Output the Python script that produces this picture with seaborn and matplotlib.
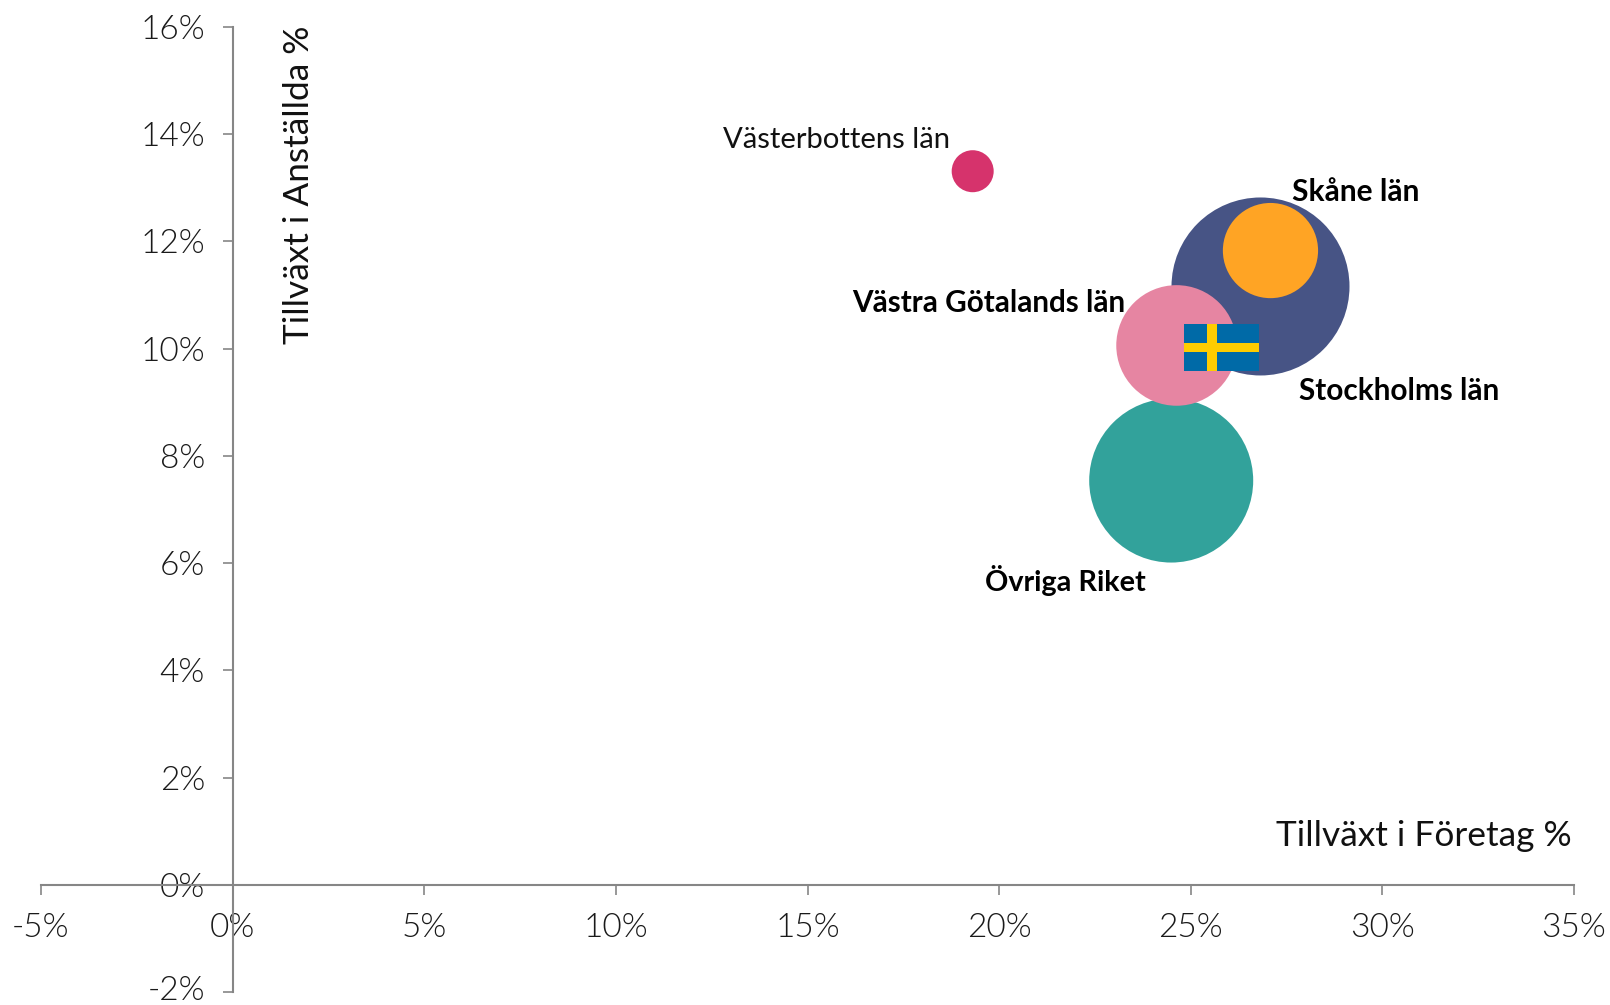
import pandas as pd
import seaborn as sns
import matplotlib.pyplot as plt
from matplotlib.patches import Rectangle
from matplotlib.transforms import ScaledTranslation

# drawing order: later regions sit on top
regions = ['Övriga Riket', 'Stockholms län', 'Skåne län', 'Västra Götalands län', 'Västerbottens län']
foretag = [24.49, 26.82, 27.08, 24.63, 19.31]
anstallda = [7.54, 11.16, 11.83, 10.06, 13.31]
bubble = [6724, 7921, 2266, 3636, 441]
colors = ['#32A29B', '#475485', '#FFA424', '#E685A2', '#D6336C']

riket_x = 25.8
riket_y = 10.02

x_ticks = [-5, 0, 5, 10, 15, 20, 25, 30, 35]
y_ticks = [-2, 0, 2, 4, 6, 8, 10, 12, 14, 16]

GREY = '#868686'
TICK_FONT = 'Lato'

sns.set_style('white')

df = pd.DataFrame({'region': regions, 'x': foretag, 'y': anstallda, 'bubble': bubble})

fig = plt.figure(figsize=(16.1, 10.05), dpi=100)
ax = fig.add_axes([41 / 1610, 1 - 992 / 1005, (1574 - 41) / 1610, (992 - 27) / 1005])

# bubble radius in px -> scatter area in pt^2: (2r * 0.72)^2
max_s = (2 * 89 * 0.72) ** 2
sns.scatterplot(data=df, x='x', y='y', hue='region', palette=dict(zip(regions, colors)),
                size='bubble', size_norm=(0, max(bubble)), sizes=(0, max_s),
                linewidth=0, alpha=1, legend=False, clip_on=False, zorder=2, ax=ax)

ax.set_xlim(-5, 35)
ax.set_ylim(-2, 16)
ax.set_xlabel('')
ax.set_ylabel('')

for side in ['top', 'right']:
    ax.spines[side].set_visible(False)
for side in ['left', 'bottom']:
    ax.spines[side].set_color(GREY)
    ax.spines[side].set_linewidth(1.5)
ax.spines['left'].set_position(('data', 0))
ax.spines['bottom'].set_position(('data', 0))

ax.set_xticks(x_ticks)
ax.set_xticklabels([f'{t}%' for t in x_ticks], fontfamily=TICK_FONT, fontweight=300, fontsize=24, color='#1a1a1a')
ax.set_yticks(y_ticks)
ax.set_yticklabels([f'{t}%' for t in y_ticks], fontfamily=TICK_FONT, fontweight=300, fontsize=24, color='#1a1a1a')
ax.tick_params(axis='x', bottom=True, direction='out', length=7, width=1.2, color=GREY, pad=13)
ax.tick_params(axis='y', left=True, direction='out', length=7, width=1.2, color=GREY, pad=13)

# -2% would touch the bottom edge otherwise
low_label = ax.get_yticklabels()[0]
low_label.set_transform(low_label.get_transform() + ScaledTranslation(0, 3 / 72, fig.dpi_scale_trans))

# flag for the whole country
fw, fh = 1.965, 0.876
x0, y0 = riket_x - fw / 2, riket_y - fh / 2
ax.add_patch(Rectangle((x0, y0), fw, fh, facecolor='#006AA7', edgecolor='none', zorder=3))
ax.add_patch(Rectangle((x0 + 0.31 * fw, y0), 0.128 * fw, fh, facecolor='#FECC00', edgecolor='none', zorder=4))
ax.add_patch(Rectangle((x0, y0 + 0.397 * fh), fw, 0.206 * fh, facecolor='#FECC00', edgecolor='none', zorder=4))

ax.text(15.75, 13.90, 'Västerbottens län', fontfamily='Lato', fontsize=21.1, color='#111111', ha='center', va='center')
ax.text(29.31, 12.93, 'Skåne län', fontfamily='Lato', fontweight='bold', fontsize=21.5, color='black', ha='center', va='center')
ax.text(19.72, 10.85, 'Västra Götalands län', fontfamily='Lato', fontweight='bold', fontsize=21.3, color='black', ha='center', va='center')
ax.text(30.45, 9.21, 'Stockholms län', fontfamily='Lato', fontweight='bold', fontsize=21.4, color='black', ha='center', va='center')
ax.text(21.74, 5.68, 'Övriga Riket', fontfamily='Lato', fontweight='bold', fontsize=20.7, color='black', ha='center', va='center')

ax.text(1.72, 13.06, 'Tillväxt i Anställda %', fontfamily='Lato', fontsize=25.4, color='#111111',
        rotation=90, ha='center', va='center')
ax.text(31.09, 0.91, 'Tillväxt i Företag %', fontfamily='Lato', fontsize=25.4, color='#111111', ha='center', va='center')

fig.savefig('out.png', dpi=100)
